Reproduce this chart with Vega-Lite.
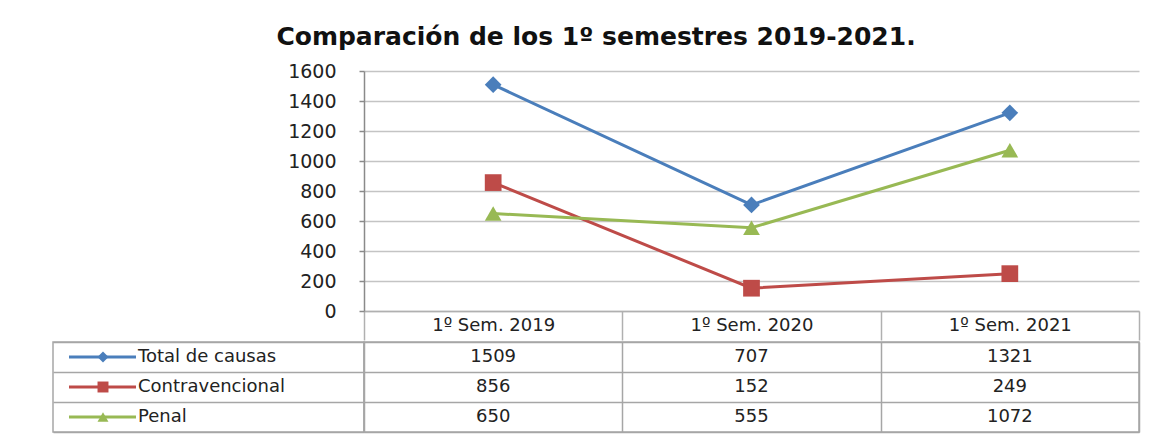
{
  "$schema": "https://vega.github.io/schema/vega-lite/v6.json",
  "padding": {"left": 52, "top": 25, "right": 28, "bottom": 10},
  "background": "white",
  "title": {"text": "Comparación de los 1º semestres 2019-2021.", "font": "DejaVu Sans", "fontSize": 25, "fontWeight": "bold", "color": "#111111", "anchor": "middle", "offset": 12},
  "datasets": {
    "valores": [
      {"serie": "Total de causas", "semestre": "1º Sem. 2019", "valor": 1509},
      {"serie": "Total de causas", "semestre": "1º Sem. 2020", "valor": 707},
      {"serie": "Total de causas", "semestre": "1º Sem. 2021", "valor": 1321},
      {"serie": "Contravencional", "semestre": "1º Sem. 2019", "valor": 856},
      {"serie": "Contravencional", "semestre": "1º Sem. 2020", "valor": 152},
      {"serie": "Contravencional", "semestre": "1º Sem. 2021", "valor": 249},
      {"serie": "Penal", "semestre": "1º Sem. 2019", "valor": 650},
      {"serie": "Penal", "semestre": "1º Sem. 2020", "valor": 555},
      {"serie": "Penal", "semestre": "1º Sem. 2021", "valor": 1072}
    ]
  },
  "config": {"view": {"stroke": null}, "font": "DejaVu Sans", "axis": {"labelFont": "DejaVu Sans"}},
  "spacing": 0,
  "bounds": "full",
  "vconcat": [
    {
      "spacing": 0,
      "bounds": "flush",
      "hconcat": [
        {"width": 311, "height": 240, "data": {"values": [{"a": 1}]}, "mark": {"type": "text", "text": ""}},
        {
          "width": 775,
          "height": 240,
          "data": {"name": "valores"},
          "encoding": {
            "x": {"field": "semestre", "type": "nominal", "sort": ["1º Sem. 2019", "1º Sem. 2020", "1º Sem. 2021"],
              "scale": {"type": "band", "paddingInner": 0, "paddingOuter": 0},
              "axis": {"title": null, "labelAngle": 0, "tickBand": "extent", "tickSize": 29, "tickColor": "#B0B0B0", "tickWidth": 1.5, "domainColor": "#B0B0B0", "domainWidth": 1.5, "labelPadding": -14.5, "labelBaseline": "middle", "labelFontSize": 18, "labelColor": "#222222", "grid": false}},
            "y": {"field": "valor", "type": "quantitative", "scale": {"domain": [0, 1600], "nice": false},
              "axis": {"title": null, "format": "d", "values": [0, 200, 400, 600, 800, 1000, 1200, 1400, 1600], "grid": true, "gridColor": "#C4C4C4", "gridWidth": 1.5, "domainColor": "#8A8A8A", "domainWidth": 1.5, "tickSize": 5, "tickColor": "#8A8A8A", "tickWidth": 1.5, "labelFontSize": 19, "labelPadding": 23, "labelColor": "#222222"}},
            "color": {"field": "serie", "type": "nominal", "scale": {"domain": ["Total de causas", "Contravencional", "Penal"], "range": ["#4A7EBB", "#BE4B48", "#98B954"]}, "legend": null}
          },
          "layer": [
            {"mark": {"type": "line", "strokeWidth": 3}},
            {"mark": {"type": "point", "filled": true, "opacity": 1, "size": 280},
              "encoding": {"shape": {"field": "serie", "type": "nominal", "scale": {"domain": ["Total de causas", "Contravencional", "Penal"], "range": ["diamond", "square", "triangle-up"]}, "legend": null}}}
          ]
        }
      ]
    },
    {
      "spacing": 0,
      "bounds": "flush",
      "hconcat": [
        {
          "width": 311,
          "height": 90,
          "data": {"name": "valores"},
          "transform": [{"filter": "datum.semestre === '1º Sem. 2019'"}],
          "view": {"stroke": "#A6A6A6", "strokeWidth": 1.5},
          "encoding": {
            "y": {"field": "serie", "type": "nominal", "sort": ["Total de causas", "Contravencional", "Penal"],
              "scale": {"type": "band", "paddingInner": 0, "paddingOuter": 0},
              "axis": {"title": null, "labels": false, "ticks": false, "domain": false, "grid": true, "tickBand": "extent", "gridColor": "#A6A6A6", "gridWidth": 1.5}},
            "color": {"field": "serie", "type": "nominal", "scale": {"domain": ["Total de causas", "Contravencional", "Penal"], "range": ["#4A7EBB", "#BE4B48", "#98B954"]}, "legend": null}
          },
          "layer": [
            {"mark": {"type": "rule", "strokeWidth": 3},
              "encoding": {"x": {"datum": 16, "type": "quantitative", "scale": {"domain": [0, 311], "nice": false}, "axis": null}, "x2": {"datum": 83}}},
            {"mark": {"type": "point", "filled": true, "opacity": 1, "size": 120},
              "encoding": {"x": {"datum": 50, "type": "quantitative"},
                "shape": {"field": "serie", "type": "nominal", "scale": {"domain": ["Total de causas", "Contravencional", "Penal"], "range": ["diamond", "square", "triangle-up"]}, "legend": null}}},
            {"mark": {"type": "text", "align": "left", "baseline": "middle", "fontSize": 18, "color": "#222222"},
              "encoding": {"x": {"datum": 85, "type": "quantitative"}, "text": {"field": "serie"}, "color": {"value": "#222222"}}}
          ]
        },
        {
          "width": 775,
          "height": 90,
          "data": {"name": "valores"},
          "view": {"stroke": "#A6A6A6", "strokeWidth": 1.5},
          "mark": {"type": "text", "fontSize": 18, "color": "#222222"},
          "encoding": {
            "x": {"field": "semestre", "type": "nominal", "sort": ["1º Sem. 2019", "1º Sem. 2020", "1º Sem. 2021"],
              "scale": {"type": "band", "paddingInner": 0, "paddingOuter": 0},
              "axis": {"title": null, "labels": false, "ticks": false, "domain": false, "grid": true, "tickBand": "extent", "gridColor": "#A6A6A6", "gridWidth": 1.5}},
            "y": {"field": "serie", "type": "nominal", "sort": ["Total de causas", "Contravencional", "Penal"],
              "scale": {"type": "band", "paddingInner": 0, "paddingOuter": 0},
              "axis": {"title": null, "labels": false, "ticks": false, "domain": false, "grid": true, "tickBand": "extent", "gridColor": "#A6A6A6", "gridWidth": 1.5}},
            "text": {"field": "valor", "type": "quantitative", "format": "d"}
          }
        }
      ]
    }
  ]
}
